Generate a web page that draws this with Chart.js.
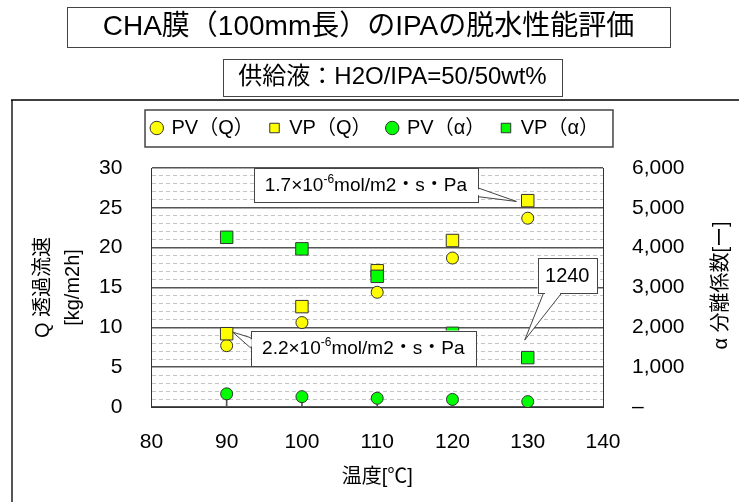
<!DOCTYPE html>
<html lang="ja">
<head>
<meta charset="utf-8">
<title>CHA膜（100mm長）のIPAの脱水性能評価</title>
<script src="https://cdn.jsdelivr.net/npm/chart.js@4.4.1/dist/chart.umd.min.js"></script>
<style>
  html, body { margin: 0; padding: 0; background: #fff; }
</style>
</head>
<body>
<canvas id="chart" width="739" height="502"></canvas>
<script>
// データ
const temps = [90, 100, 110, 120, 130];          // 温度[℃]
const pvQ = [7.7, 10.6, 14.4, 18.7, 23.7];       // PV（Q） kg/m2h
const vpQ = [9.2, 12.6, 17.1, 20.9, 25.9];       // VP（Q） kg/m2h
const pvAlpha = [330, 260, 220, 190, 135];       // PV（α）
const vpAlpha = [4260, 3970, 3280, 1850, 1240];  // VP（α）

const labels = ['PV（Q）', 'VP（Q）', 'PV（α）', 'VP（α）'];
const xTicks = [80, 90, 100, 110, 120, 130, 140];
const qTicks = [0, 5, 10, 15, 20, 25, 30];
const alphaTicks = [0, 1000, 2000, 3000, 4000, 5000, 6000];

const titleText = 'CHA膜（100mm長）のIPAの脱水性能評価';
const subTitleText = '供給液：H2O/IPA=50/50wt%';

const FONT = '"Liberation Sans", "Noto Sans CJK JP", sans-serif';
const YELLOW = '#ffff00';
const GREEN = '#00ff00';
const EDGE = '#333';

// 吹き出し（x は温度、y は左軸の値）
const notes = [
  { parts: [['1.7×10', 0], ['-6', 1], ['mol/m2・s・Pa', 0]], size: 19,
    box: [93.6, 123.4, 30.0, 25.7], base: [[123.4, 27.5], [123.4, 26.4]], tip: [128.5, 25.8] },
  { parts: [['2.2×10', 0], ['-6', 1], ['mol/m2・s・Pa', 0]], size: 19,
    box: [93.2, 123.1, 9.6, 5.2], base: [[93.2, 8.7], [93.2, 7.4]], tip: [90.8, 9.4] },
  { parts: [['1240', 0]], size: 20,
    box: [131.3, 139.2, 18.7, 14.3], base: [[132.1, 14.3], [134.5, 14.3]], tip: [129.6, 8.4] }
];

const pts = ys => temps.map((t, i) => ({ x: t, y: ys[i] }));

function boxedText(ctx, text, cx, cy, x, y, w, h, size) {
  ctx.fillStyle = '#fff';
  ctx.fillRect(x, y, w, h);
  ctx.strokeStyle = '#444';
  ctx.lineWidth = 1;
  ctx.strokeRect(x + 0.5, y + 0.5, w, h);
  ctx.fillStyle = '#000';
  ctx.font = size + 'px ' + FONT;
  ctx.textAlign = 'center';
  ctx.textBaseline = 'middle';
  ctx.fillText(text, cx, cy);
}

const deco = {
  id: 'deco',
  beforeDraw(chart) {
    const ctx = chart.ctx;
    ctx.save();
    ctx.fillStyle = '#fff';
    ctx.fillRect(0, 0, chart.width, chart.height);
    // 外枠
    ctx.strokeStyle = '#555';
    ctx.lineWidth = 2;
    ctx.beginPath();
    ctx.moveTo(12, chart.height);
    ctx.lineTo(12, 100);
    ctx.stroke();
    ctx.strokeStyle = '#000';
    ctx.lineWidth = 1.5;
    ctx.beginPath();
    ctx.moveTo(11, 100);
    ctx.lineTo(chart.width, 100);
    ctx.stroke();
    ctx.restore();
  },
  afterLayout(chart) {
    // 凡例をグラフ上端から離す
    chart.legend.top -= 20;
    chart.legend.bottom -= 20;
  },
  afterDatasetsDraw(chart) {
    const ctx = chart.ctx;
    const sx = chart.scales.x, sy = chart.scales.y;
    const px = v => sx.getPixelForValue(v);
    const py = v => sy.getPixelForValue(v);
    ctx.save();
    notes.forEach(n => {
      const x1 = px(n.box[0]), x2 = px(n.box[1]);
      const y1 = py(n.box[2]), y2 = py(n.box[3]);
      const b = n.base.map(p => [px(p[0]), py(p[1])]);
      const t = [px(n.tip[0]), py(n.tip[1])];
      ctx.lineWidth = 1;
      ctx.strokeStyle = '#444';
      ctx.fillStyle = '#fff';
      ctx.beginPath();
      ctx.moveTo(b[0][0], b[0][1]);
      ctx.lineTo(t[0], t[1]);
      ctx.lineTo(b[1][0], b[1][1]);
      ctx.closePath();
      ctx.fill();
      ctx.stroke();
      ctx.fillRect(x1, y1, x2 - x1, y2 - y1);
      ctx.strokeRect(Math.round(x1) + 0.5, Math.round(y1) + 0.5, Math.round(x2 - x1), Math.round(y2 - y1));
      // 吹き出しの付け根の線を消す
      ctx.strokeStyle = '#fff';
      ctx.lineWidth = 2;
      ctx.beginPath();
      const dx = b[1][0] - b[0][0], dy = b[1][1] - b[0][1];
      const len = Math.hypot(dx, dy);
      const ux = dx / len, uy = dy / len;
      ctx.moveTo(b[0][0] + ux * 1.5, b[0][1] + uy * 1.5);
      ctx.lineTo(b[1][0] - ux * 1.5, b[1][1] - uy * 1.5);
      ctx.stroke();

      // 文字
      const big = n.size + 'px ' + FONT;
      const small = Math.round(n.size * 0.62) + 'px ' + FONT;
      let total = 0;
      n.parts.forEach(p => {
        ctx.font = p[1] ? small : big;
        total += ctx.measureText(p[0]).width;
      });
      let cx = (x1 + x2) / 2 - total / 2;
      const cy = (y1 + y2) / 2 + 1;
      ctx.fillStyle = '#000';
      ctx.textAlign = 'left';
      ctx.textBaseline = 'middle';
      n.parts.forEach(p => {
        ctx.font = p[1] ? small : big;
        ctx.fillText(p[0], cx, p[1] ? cy - 6 : cy);
        cx += ctx.measureText(p[0]).width;
      });
    });
    ctx.restore();
  },
  afterDraw(chart) {
    const ctx = chart.ctx;
    ctx.save();
    boxedText(ctx, titleText, 368.5, 27, 67, 7, 603, 40, 28);
    boxedText(ctx, subTitleText, 392.5, 77, 223, 59, 339, 37, 24);

    // 凡例の枠
    const lg = chart.legend;
    const hb = lg.legendHitBoxes;
    const left = Math.min(...hb.map(h => h.left)) - 7;
    const right = Math.max(...hb.map(h => h.left + h.width)) + 14;
    const mid = hb[0].top + hb[0].height / 2;
    ctx.strokeStyle = '#444';
    ctx.lineWidth = 1.5;
    ctx.strokeRect(left, mid - 18, right - left, 37);

    // 右軸タイトル
    const a = chart.chartArea;
    ctx.translate(721, (a.top + a.bottom) / 2 - 2);
    ctx.rotate(-Math.PI / 2);
    ctx.fillStyle = '#000';
    ctx.font = '20px ' + FONT;
    ctx.textAlign = 'center';
    ctx.textBaseline = 'middle';
    ctx.fillText('α 分離係数[ー]', 0, 0);
    ctx.restore();
  }
};

Chart.defaults.font.family = FONT;
Chart.defaults.color = '#000';

new Chart(document.getElementById('chart'), {
  type: 'scatter',
  data: {
    datasets: [
      { label: labels[0], data: pts(pvQ), yAxisID: 'y', pointStyle: 'circle', pointRadius: 6,
        backgroundColor: YELLOW, borderColor: EDGE, borderWidth: 1, order: 3 },
      { label: labels[1], data: pts(vpQ), yAxisID: 'y', pointStyle: 'rect', pointRadius: 8.8,
        backgroundColor: YELLOW, borderColor: EDGE, borderWidth: 1, order: 2 },
      { label: labels[2], data: pts(pvAlpha), yAxisID: 'y2', pointStyle: 'circle', pointRadius: 6,
        backgroundColor: GREEN, borderColor: EDGE, borderWidth: 1, order: 1 },
      { label: labels[3], data: pts(vpAlpha), yAxisID: 'y2', pointStyle: 'rect', pointRadius: 8.8,
        backgroundColor: GREEN, borderColor: EDGE, borderWidth: 1, order: 0 },
      // PV（α）の下の縦線
      { type: 'bar', label: 'stem', data: pts(pvAlpha), yAxisID: 'y2', backgroundColor: '#555',
        borderWidth: 0, barThickness: 1, order: 9 }
    ]
  },
  options: {
    responsive: false,
    animation: false,
    layout: { padding: { left: 12, right: 0, top: 122, bottom: 0 } },
    plugins: {
      tooltip: { enabled: false },
      legend: {
        position: 'top',
        labels: {
          usePointStyle: true,
          boxWidth: 9.5,
          boxHeight: 9.5,
          padding: 16,
          font: { size: 20 },
          filter: item => item.datasetIndex < 4,
          sort: (a, b) => a.datasetIndex - b.datasetIndex
        }
      }
    },
    scales: {
      x: {
        type: 'linear',
        min: xTicks[0],
        max: xTicks[xTicks.length - 1],
        offset: false,
        afterBuildTicks: s => { s.ticks = xTicks.map(v => ({ value: v })); },
        grid: { display: false, drawTicks: false },
        border: { color: EDGE, width: 1 },
        ticks: { padding: 23, font: { size: 21 } },
        title: { display: true, text: '温度[℃]', font: { size: 20 }, padding: { top: 0, bottom: 13 } },
        afterFit: s => { s.height = 95; }
      },
      y: {
        position: 'left',
        min: qTicks[0],
        max: qTicks[qTicks.length - 1],
        ticks: {
          stepSize: 1,
          autoSkip: false,
          padding: 29,
          font: { size: 21 },
          callback: v => qTicks.includes(Math.round(v * 100) / 100) ? v : ''
        },
        grid: {
          drawTicks: false,
          color: c => c.tick && qTicks.includes(c.tick.value) ? '#555' : '#c4c4c4',
          lineWidth: c => c.tick && qTicks.includes(c.tick.value) ? 1.5 : 1
        },
        border: {
          color: EDGE,
          width: 1,
          dash: c => (c.tick && !qTicks.includes(c.tick.value)) ? [4, 3] : []
        },
        title: {
          display: true,
          text: ['Q 透過流速', '[kg/m2h]'],
          font: { size: 20, lineHeight: 1.5 },
          padding: { top: 16, bottom: 0 }
        },
        afterFit: s => { s.width = 139.4; }
      },
      y2: {
        position: 'right',
        min: alphaTicks[0],
        max: alphaTicks[alphaTicks.length - 1],
        afterBuildTicks: s => { s.ticks = alphaTicks.map(v => ({ value: v })); },
        ticks: {
          padding: 29,
          font: { size: 21 },
          callback: v => v === 0 ? '–' : v.toLocaleString('en-US')
        },
        grid: { drawOnChartArea: false, drawTicks: false },
        border: { color: EDGE, width: 1 },
        afterFit: s => { s.width = 136; }
      }
    }
  },
  plugins: [deco]
});
</script>
</body>
</html>
